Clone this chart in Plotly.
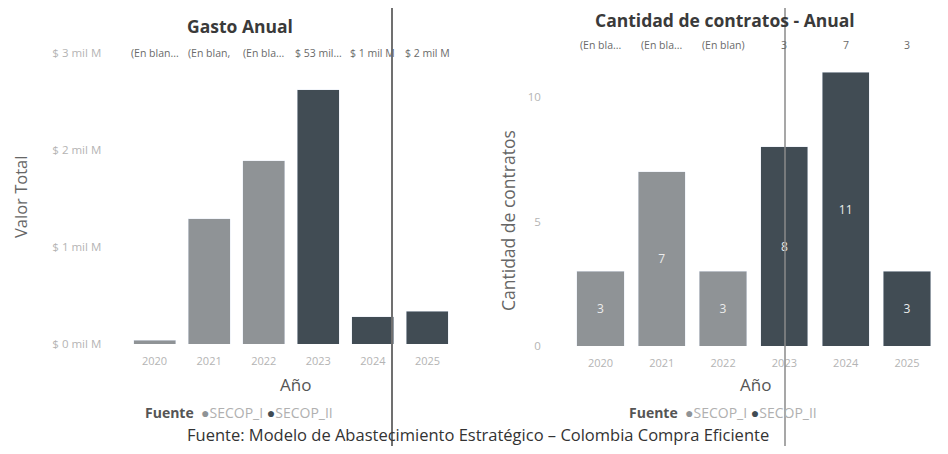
import plotly.graph_objects as go

# ---------------- data ----------------
years = ["2020", "2021", "2022", "2023", "2024", "2025"]

# Gasto anual (miles de millones, "mil M")
gasto_secop_i = [0.04, 1.29, 1.89, None, None, None]
gasto_secop_ii = [None, None, None, 2.62, 0.28, 0.34]
gasto_tick_vals = [0, 1, 2, 3]
gasto_tick_text = ["$ 0 mil M", "$ 1 mil M", "$ 2 mil M", "$ 3 mil M"]
gasto_top_labels = ["(En blan...", "(En blan,", "(En bla...", "$ 53 mil...", "$ 1 mil M", "$ 2 mil M"]

# Cantidad de contratos
contratos_secop_i = [3, 7, 3, None, None, None]
contratos_secop_ii = [None, None, None, 8, 11, 3]
contratos_tick_vals = [0, 5, 10]
contratos_tick_text = ["0", "5", "10"]
contratos_top_labels = ["(En bla...", "(En bla...", "(En blan)", "3", "7", "3"]

series_names = ["SECOP_I", "SECOP_II"]

# ---------------- style ----------------
C_I = "#8f9396"
C_II = "#414c54"
FONT = "Open Sans"
OFF = 8          # default page body margin
W, H = 948 - 2 * OFF, 454 - 2 * OFF

def px_x(p):
    return (p - OFF) / W

def px_y(p):
    return 1 - (p - OFF) / H

fig = go.Figure()

# left chart
fig.add_trace(go.Bar(x=years, y=gasto_secop_i, name=series_names[0], marker_color=C_I,
                     width=0.77, xaxis="x", yaxis="y", showlegend=False))
fig.add_trace(go.Bar(x=years, y=gasto_secop_ii, name=series_names[1], marker_color=C_II,
                     width=0.77, xaxis="x", yaxis="y", showlegend=False))

# right chart
txt_i = [str(v) if v is not None else "" for v in contratos_secop_i]
txt_ii = [str(v) if v is not None else "" for v in contratos_secop_ii]
lab_font = dict(color="#ececec", size=12, family=FONT)
fig.add_trace(go.Bar(x=years, y=contratos_secop_i, name=series_names[0], marker_color=C_I,
                     width=0.77, xaxis="x2", yaxis="y2", showlegend=False,
                     text=txt_i, textposition="inside", insidetextanchor="middle",
                     textfont=lab_font))
fig.add_trace(go.Bar(x=years, y=contratos_secop_ii, name=series_names[1], marker_color=C_II,
                     width=0.77, xaxis="x2", yaxis="y2", showlegend=False,
                     text=txt_ii, textposition="inside", insidetextanchor="middle",
                     textfont=lab_font))

tick_font = dict(family=FONT, size=11.5, color="#b4b4b4")
xtick_font = dict(family=FONT, size=11, color="#b4b4b4")

fig.update_layout(
    width=W, height=H,
    margin=dict(l=0, r=0, t=0, b=0),
    paper_bgcolor="white", plot_bgcolor="white",
    barmode="stack",
    font=dict(family=FONT),
    xaxis=dict(domain=[px_x(127.25), px_x(454.75)], range=[-0.5, 5.5], type="category",
               showgrid=False, zeroline=False, showline=False, ticks="",
               tickfont=xtick_font, ticklabelstandoff=9, automargin=False),
    yaxis=dict(domain=[px_y(344), px_y(53)], range=[0, 3], showgrid=False, zeroline=False,
               showline=False, tickvals=gasto_tick_vals, ticktext=gasto_tick_text,
               tickfont=tick_font, ticklabelstandoff=25, automargin=False),
    xaxis2=dict(domain=[px_x(569.85), px_x(937.65)], range=[-0.5, 5.5], type="category",
                showgrid=False, zeroline=False, showline=False, ticks="",
                tickfont=xtick_font, ticklabelstandoff=9, anchor="y2", automargin=False),
    yaxis2=dict(domain=[px_y(346), px_y(59.6)], range=[0, 11.5], showgrid=False, zeroline=False,
                showline=False, tickvals=contratos_tick_vals, ticktext=contratos_tick_text,
                tickfont=tick_font, ticklabelstandoff=28, anchor="x2", automargin=False),
)

def note(text, x, y, size, color, xref="paper", angle=0, bold=False):
    return dict(text=("<b>%s</b>" % text) if bold else text, x=x, y=y, xref=xref, yref="paper",
                showarrow=False, xanchor="center", yanchor="middle", textangle=angle,
                font=dict(family=FONT, size=size, color=color), borderpad=0)

ann = []
# titles
ann.append(note("Gasto Anual", px_x(240), px_y(26), 17.5, "#3a3a3a", bold=True))
ann.append(note("Cantidad de contratos - Anual", px_x(725), px_y(20), 17.5, "#3a3a3a", bold=True))
# top label rows (category axes use the category index as coordinate)
for i, lab in enumerate(gasto_top_labels):
    ann.append(note(lab, i, px_y(53), 10.5, "#6a6a6a", xref="x"))
for i, lab in enumerate(contratos_top_labels):
    ann.append(note(lab, i, px_y(45), 10.5, "#6a6a6a", xref="x2"))
# axis titles
ann.append(note("Año", px_x(295), px_y(384), 17, "#555555"))
ann.append(note("Año", px_x(755), px_y(384), 17, "#555555"))
ann.append(note("Valor Total", px_x(21), px_y(197), 16.5, "#666666", angle=-90))
ann.append(note("Cantidad de contratos", px_x(508), px_y(220), 17.5, "#666666", angle=-90))
# legends
leg = ("<b>Fuente</b>  <span style='color:%s'>●</span><span style='color:#b0b0b0'>%s</span> "
       "<span style='color:%s'>●</span><span style='color:#b0b0b0'>%s</span>") % (
    C_I, series_names[0], C_II, series_names[1])
ann.append(note(leg, px_x(239), px_y(412), 14, "#555555"))
ann.append(note(leg, px_x(723), px_y(412), 14, "#555555"))
# footer
ann.append(note("Fuente: Modelo de Abastecimiento Estratégico – Colombia Compra Eficiente",
                px_x(478), px_y(434), 16.5, "#333333"))
fig.update_layout(annotations=ann)

# scan fold lines
fig.add_shape(type="line", xref="paper", yref="paper", x0=px_x(392), x1=px_x(392), y0=0, y1=1,
              line=dict(color="#707070", width=2))
fig.add_shape(type="line", xref="paper", yref="paper", x0=px_x(785), x1=px_x(785), y0=0, y1=1,
              line=dict(color="#8a8a8a", width=1.5))

fig.write_html("out.html")
